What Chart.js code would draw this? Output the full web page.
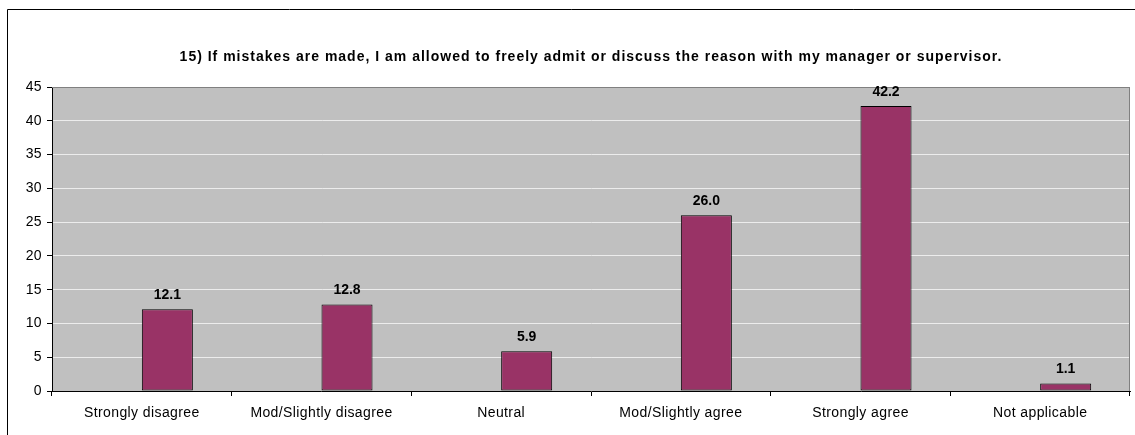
<!DOCTYPE html>
<html>
<head>
<meta charset="utf-8">
<script src="https://cdn.jsdelivr.net/npm/chart.js@4"></script>
<style>
  html, body { margin: 0; padding: 0; background: #fff; }
  #wrap { width: 1135px; height: 435px; }
</style>
</head>
<body>
<div id="wrap"><canvas id="chart"></canvas></div>
<script>
// chart data
const title = '15) If mistakes are made, I am allowed to freely admit or discuss the reason with my manager or supervisor.';
const categories = ['Strongly disagree', 'Mod/Slightly disagree', 'Neutral', 'Mod/Slightly agree', 'Strongly agree', 'Not applicable'];
const blankSeries = [null, null, null, null, null, null]; // empty first series (Excel leaves its slot)
const percentages = [12.1, 12.8, 5.9, 26.0, 42.2, 1.1];
const yTicks = [0, 5, 10, 15, 20, 25, 30, 35, 40, 45];

const FONT = '"Liberation Sans", Arial, sans-serif';

// outer frame, plot background, plot border, title
const framePlugin = {
  id: 'frame',
  beforeDraw(chart) {
    const { ctx, chartArea: a } = chart;
    ctx.save();
    ctx.fillStyle = '#c0c0c0';
    ctx.fillRect(a.left, a.top, a.right - a.left, a.bottom - a.top);
    ctx.strokeStyle = '#000';
    ctx.lineWidth = 1;
    ctx.beginPath();
    ctx.moveTo(7.5, chart.height);
    ctx.lineTo(7.5, 9.5);
    ctx.lineTo(chart.width, 9.5);
    ctx.stroke();

    ctx.fillStyle = '#000';
    ctx.font = 'bold 14px ' + FONT;
    ctx.letterSpacing = '1px';
    ctx.textAlign = 'center';
    ctx.textBaseline = 'middle';
    ctx.fillText(title, (a.left + a.right) / 2, 57);
    ctx.restore();
    // Excel spaces its axis text a little wider
    ctx.letterSpacing = '0.4px';
  },
  beforeDatasetsDraw(chart) {
    const { ctx, chartArea: a } = chart;
    ctx.save();
    ctx.strokeStyle = '#808080';
    ctx.lineWidth = 1;
    ctx.beginPath();
    ctx.moveTo(a.left, a.top + 0.5);
    ctx.lineTo(a.right - 0.5, a.top + 0.5);
    ctx.lineTo(a.right - 0.5, a.bottom);
    ctx.stroke();
    ctx.restore();
  },
  afterDraw(chart) {
    chart.ctx.letterSpacing = '0px';
  }
};

// value labels above the bars
const labelPlugin = {
  id: 'valueLabels',
  afterDatasetsDraw(chart) {
    const { ctx } = chart;
    const meta = chart.getDatasetMeta(1);
    ctx.save();
    ctx.fillStyle = '#000';
    ctx.font = 'bold 14px ' + FONT;
    ctx.letterSpacing = '0px';
    ctx.textAlign = 'center';
    ctx.textBaseline = 'middle';
    meta.data.forEach((bar, i) => {
      ctx.fillText(percentages[i].toFixed(1), bar.x, bar.y - 14);
    });
    ctx.restore();
  }
};

new Chart(document.getElementById('chart'), {
  type: 'bar',
  data: {
    labels: categories,
    datasets: [
      { data: blankSeries },
      {
        data: percentages,
        backgroundColor: '#993366',
        borderColor: '#000',
        borderWidth: 1,
        borderSkipped: false
      }
    ]
  },
  options: {
    responsive: true,
    maintainAspectRatio: false,
    animation: false,
    categoryPercentage: 0.568,
    barPercentage: 1.0,
    layout: { padding: { top: 87, right: 5, left: 0, bottom: 0 } },
    plugins: {
      legend: { display: false },
      tooltip: { enabled: false },
      title: { display: false }
    },
    scales: {
      x: {
        grid: { drawOnChartArea: false, drawTicks: true, tickLength: 5, tickColor: '#000', offset: true },
        border: { color: '#000', width: 1 },
        ticks: { color: '#000', font: { family: FONT, size: 14 }, padding: 9, maxRotation: 0 },
        afterFit(scale) { scale.height = 44; }
      },
      y: {
        min: 0,
        max: 45,
        afterBuildTicks(scale) { scale.ticks = yTicks.map(v => ({ value: v })); },
        grid: {
          color: ctx => (ctx.tick && ctx.tick.value === 45 ? '#808080' : '#ececec'),
          tickColor: '#000',
          tickLength: 5
        },
        border: { color: '#000', width: 1 },
        ticks: { color: '#000', font: { family: FONT, size: 14 }, padding: 5 },
        afterFit(scale) { scale.width = 52; }
      }
    }
  },
  plugins: [framePlugin, labelPlugin]
});
</script>
</body>
</html>
